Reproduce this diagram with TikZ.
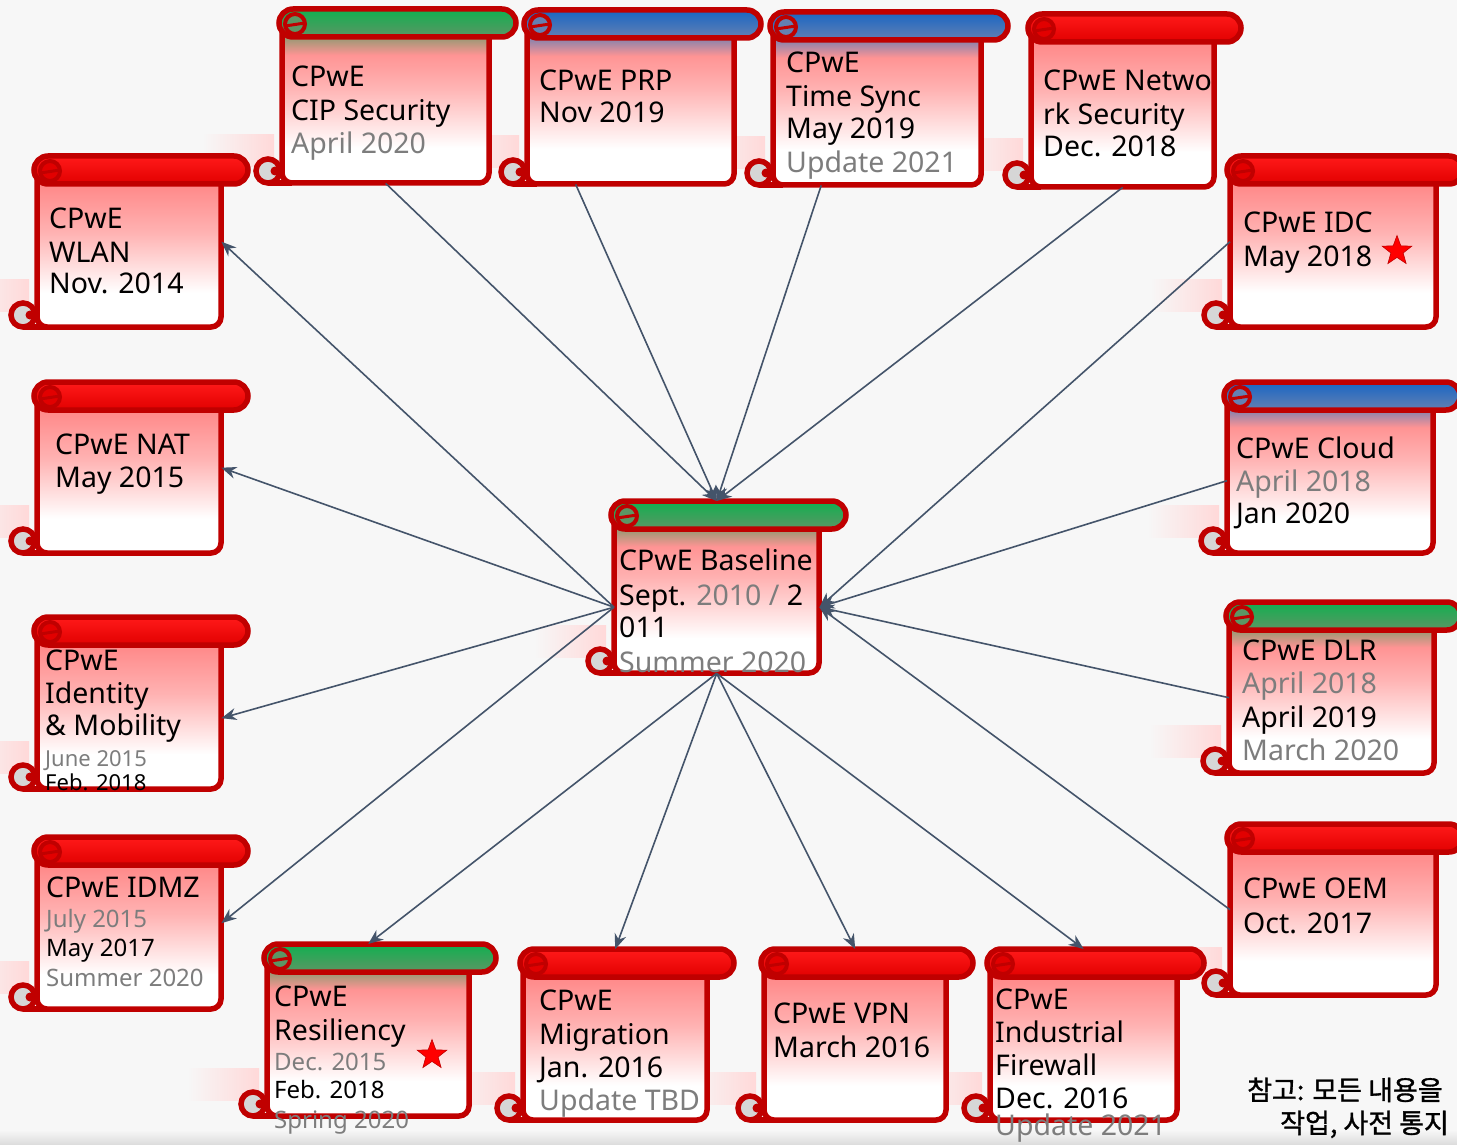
\documentclass[tikz,border=0pt]{standalone}
\usepackage{fontspec}
\setmainfont{Noto Sans}
\newfontfamily\krfont{Noto Sans CJK KR}[FakeBold=1.2]
\usetikzlibrary{arrows.meta, shapes.geometric}

\definecolor{rimc}{RGB}{192,0,0}
\definecolor{linkc}{RGB}{68,84,106}
\definecolor{curlc}{RGB}{214,214,214}
\definecolor{bgc}{RGB}{247,247,247}
\definecolor{dimc}{RGB}{125,125,125}
\definecolor{gbr}{RGB}{160,152,118}
\definecolor{bbr}{RGB}{145,132,170}
\definecolor{rtop}{RGB}{255,26,26}
\definecolor{rbot}{RGB}{226,0,0}
\definecolor{gtop}{RGB}{16,176,80}
\definecolor{gbot}{RGB}{92,150,100}
\definecolor{btop}{RGB}{24,102,196}
\definecolor{bbot}{RGB}{100,128,178}

% body and bar fills
\pgfdeclareverticalshading{bodyr}{100bp}{color(0bp)=(white); color(36bp)=(white); color(55bp)=(red!30); color(70bp)=(red!46); color(100bp)=(red!46)}
\pgfdeclareverticalshading{bodyg}{100bp}{color(0bp)=(white); color(36bp)=(white); color(55bp)=(red!30); color(65bp)=(red!42); color(70bp)=(gbr); color(100bp)=(gbr)}
\pgfdeclareverticalshading{bodyb}{100bp}{color(0bp)=(white); color(36bp)=(white); color(55bp)=(red!30); color(65bp)=(red!42); color(70bp)=(bbr); color(100bp)=(bbr)}
\pgfdeclareverticalshading{barr}{100bp}{color(0bp)=(rbot); color(25bp)=(rbot); color(75bp)=(rtop); color(100bp)=(rtop)}
\pgfdeclareverticalshading{barg}{100bp}{color(0bp)=(gbot); color(25bp)=(gbot); color(75bp)=(gtop); color(100bp)=(gtop)}
\pgfdeclareverticalshading{barb}{100bp}{color(0bp)=(bbot); color(25bp)=(bbot); color(75bp)=(btop); color(100bp)=(btop)}

\tikzset{
  rim/.style={draw=rimc, line width=5.5pt},
  link/.style={draw=linkc, line width=1.6pt, -{Stealth[length=15pt, width=12pt]}},
  txt/.style={inner sep=0pt, anchor=base west, font=\fontsize{28.5}{34}\selectfont},
  note/.style={inner sep=0pt, anchor=base west, font=\krfont\fontsize{27}{30}\selectfont},
  star5/.style={star, star points=5, star point ratio=2.4, minimum size=31pt, inner sep=0pt, fill=red, draw=red!75!black, line width=0.6pt}
}

\newcommand{\gr}[1]{\textcolor{dimc}{#1}}
\newcommand{\sm}{\fontsize{24}{26}\selectfont}
\newcommand{\xs}{\fontsize{22}{24}\selectfont}

% name, body left, bar top, body right, body bottom, bar colour
\newcommand{\scrollbox}[6]{%
  \draw[rim, shading=body#6, rounded corners=10pt] (#2,#3+14) -- (#2,#5) -- (#4,#5) -- (#4,#3+14) -- cycle;
  \draw[rim] (#2-14,#5) -- (#2+10,#5);
  \draw[rim, shading=bar#6, rounded corners=14pt] (#2-3,#3) rectangle (#4+27,#3+28);
  \draw[rim, fill=curlc] (#2-14,#5-12) circle (12);
  \fill[rimc] (#2-7,#5-12) circle (4.5);
  \draw[draw=rimc, line width=4pt, fill=#6bot] (#2+13,#3+15) circle (10);
  \draw[draw=rimc, line width=3pt] (#2+3,#3+17) -- (#2+23,#3+14);
  \node[inner sep=0pt, minimum width=#4-#2, minimum height=#5-#3, anchor=north west] (#1) at (#2,#3) {};
}

\begin{document}
\begin{tikzpicture}[x=1pt, y=-1pt]
  \clip (0,0) rectangle (1457,1145);
  \fill[bgc] (0,0) rectangle (1457,1145);
  \shade[top color=bgc, bottom color=gray!28] (0,1130) rectangle (1457,1145);

  % soft shadows first, then the scrolls
  \foreach \l/\b in {282/183, 527/184, 773/185, 1031/187, 37/327, 37/553, 37/789, 37/1009,
      267/1116, 523/1120, 764/1120, 990/1120, 1230/327, 1227/553, 1229/773, 1230/995, 614/673}
    \shade[left color=bgc, right color=red!15] (\l-80,\b-48) rectangle (\l-8,\b-16);

  \foreach \n/\l/\t/\r/\b/\c in {cip/282/9/489/183/g, prp/527/10/734/184/b, tsync/773/12/981/185/b,
      netsec/1031/14/1214/187/r, wlan/37/156/221/327/r, nat/37/382/221/553/r, idmob/37/617/221/789/r,
      idmz/37/837/221/1009/r, resil/267/944/469/1116/g, migr/523/949/707/1120/r, vpn/764/949/946/1120/r,
      fwall/990/949/1177/1120/r, idc/1230/156/1436/327/r, cloud/1227/382/1433/553/b,
      dlr/1229/602/1434/773/g, oem/1230/824/1436/995/r, hub/614/501/819/673/g}
    \scrollbox{\n}{\l}{\t}{\r}{\b}{\c};

  % texts
  \node[txt] (cip-t) at (291,87) {\begin{tabular}[t]{@{}l@{}}CPwE\\CIP Security\\[-1pt]\gr{April 2020}\end{tabular}};
  \node[txt] (prp-t) at (539,91) {\begin{tabular}[t]{@{}l@{}}CPwE PRP\\[-2pt]Nov 2019\end{tabular}};
  \node[txt] (tsync-t) at (786,73) {\begin{tabular}[t]{@{}l@{}}CPwE\\Time Sync\\[-2pt]May 2019\\\gr{Update 2021}\end{tabular}};
  \node[txt] (netsec-t) at (1043,91) {\begin{tabular}[t]{@{}l@{}}CPwE Netwo\\rk Security\\[-2pt]Dec. 2018\end{tabular}};
  \node[txt] (wlan-t) at (49,228) {\begin{tabular}[t]{@{}l@{}}CPwE\\WLAN\\[-2pt]Nov. 2014\end{tabular}};
  \node[txt] (nat-t) at (55,454) {\begin{tabular}[t]{@{}l@{}}CPwE NAT\\[-1pt]May 2015\end{tabular}};
  \node[txt] (idmob-t) at (45,670) {\begin{tabular}[t]{@{}l@{}}CPwE\\[-1pt]Identity\\[-2pt]\& Mobility\\[-3pt]\gr{\xs June 2015}\\[-10pt]{\xs Feb. 2018}\end{tabular}};
  \node[txt] (idmz-t) at (46,897) {\begin{tabular}[t]{@{}l@{}}CPwE IDMZ\\[-4pt]\gr{\sm July 2015}\\[-5pt]{\sm May 2017}\\[-4pt]\gr{\sm Summer 2020}\end{tabular}};
  \node[txt] (resil-t) at (274,1006) {\begin{tabular}[t]{@{}l@{}}CPwE\\Resiliency\\[-4pt]\gr{\sm Dec. 2015}\\[-6pt]{\sm Feb. 2018}\\[-4pt]\gr{\sm Spring 2020}\end{tabular}};
  \node[txt] (migr-t) at (539,1010) {\begin{tabular}[t]{@{}l@{}}CPwE\\Migration\\[-1pt]Jan. 2016\\[-1pt]\gr{Update TBD}\end{tabular}};
  \node[txt] (vpn-t) at (773,1023) {\begin{tabular}[t]{@{}l@{}}CPwE VPN\\March 2016\end{tabular}};
  \node[txt] (fwall-t) at (995,1009) {\begin{tabular}[t]{@{}l@{}}CPwE\\[-1pt]Industrial\\[-1pt]Firewall\\[-1pt]Dec. 2016\\[-7pt]\gr{Update 2021}\end{tabular}};
  \node[txt] (idc-t) at (1243,232) {\begin{tabular}[t]{@{}l@{}}CPwE IDC\\May 2018\end{tabular}};
  \node[txt] (cloud-t) at (1236,458) {\begin{tabular}[t]{@{}l@{}}CPwE Cloud\\[-1pt]\gr{April 2018}\\[-2pt]Jan 2020\end{tabular}};
  \node[txt] (dlr-t) at (1242,660) {\begin{tabular}[t]{@{}l@{}}CPwE DLR\\[-1pt]\gr{April 2018}\\April 2019\\[-1pt]\gr{March 2020}\end{tabular}};
  \node[txt] (oem-t) at (1243,898) {\begin{tabular}[t]{@{}l@{}}CPwE OEM\\[1pt]Oct. 2017\end{tabular}};
  \node[txt] (hub-t) at (619,570) {\begin{tabular}[t]{@{}l@{}}CPwE Baseline\\[1pt]Sept. \gr{2010 /} 2\\[-2pt]011\\[1pt]\gr{Summer 2020}\end{tabular}};

  \node[star5] (idc-s) at (1397,251) {};
  \node[star5] (resil-s) at (432,1055) {};

  \node[note] (note-a) at (1247,1100) {참고: 모든 내용을};
  \node[note] (note-b) at (1280,1133) {작업, 사전 통지};

  % connectors
  \draw[link] ([yshift=-20pt]hub.west) -- (wlan.east);
  \draw[link] ([yshift=-20pt]hub.west) -- (nat.east);
  \draw[link] ([yshift=-20pt]hub.west) -- ([yshift=-15pt]idmob.east);
  \draw[link] ([yshift=-20pt]hub.west) -- (idmz.east);
  \draw[link] (cip.south) -- (hub.north);
  \draw[link] ([xshift=-55pt]prp.south) -- (hub.north);
  \draw[link] ([xshift=-56pt]tsync.south) -- (hub.north);
  \draw[link] (netsec.south) -- (hub.north);
  \draw[link] (idc.west) -- ([yshift=-20pt]hub.east);
  \draw[link] ([yshift=-13pt]cloud.west) -- ([yshift=-20pt]hub.east);
  \draw[link] ([yshift=-10pt]dlr.west) -- ([yshift=-20pt]hub.east);
  \draw[link] (oem.west) -- ([yshift=-20pt]hub.east);
  \draw[link] (hub.south) -- (resil.north);
  \draw[link] (hub.south) -- (migr.north);
  \draw[link] (hub.south) -- (vpn.north);
  \draw[link] (hub.south) -- (fwall.north);
\end{tikzpicture}
\end{document}
